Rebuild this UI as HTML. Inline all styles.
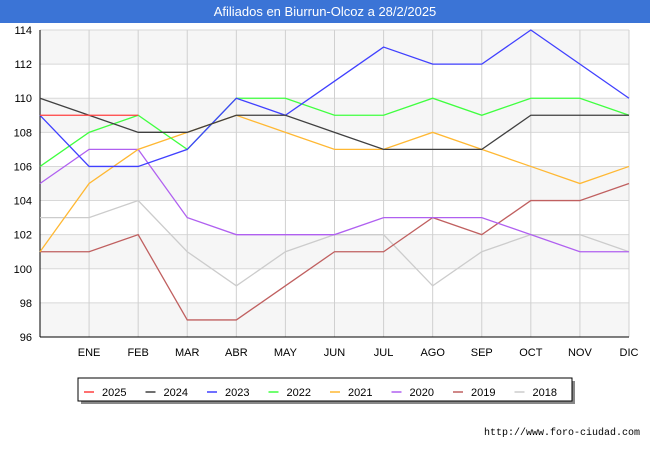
<!DOCTYPE html>
<html><head><meta charset="utf-8"><style>
body{margin:0;background:#fff;font-family:"Liberation Sans",sans-serif}
#wrap{position:relative;width:650px;height:450px;overflow:hidden}
#title{position:absolute;left:0;top:0;width:650px;height:23px;background:#3b74d6;color:#fff;font-size:13px;text-align:center;line-height:23px}
#url{position:absolute;right:10px;top:428px;font-size:10px;font-family:"Liberation Mono",monospace;color:#000}
</style></head><body>
<div id="wrap">
<div id="title">Afiliados en Biurrun-Olcoz a 28/2/2025</div>
<svg id="svg" width="650" height="450" style="position:absolute;left:0;top:0;pointer-events:none"></svg>
<div id="url">http://www.foro-ciudad.com</div>
</div>
<script>
const categories=["","ENE","FEB","MAR","ABR","MAY","JUN","JUL","AGO","SEP","OCT","NOV","DIC"];
const yTicks=[96,98,100,102,104,106,108,110,112,114];
const seriesNames=["2025","2024","2023","2022","2021","2020","2019","2018"];
const seriesColors=["#ff4040","#404040","#4040ff","#40ff40","#ffb833","#b060f0","#c06060","#cccccc"];
const s2025=[109,109,109];
const s2024=[110,109,108,108,109,109,108,107,107,107,109,109,109];
const s2023=[109,106,106,107,110,109,111,113,112,112,114,112,110];
const s2022=[106,108,109,107,110,110,109,109,110,109,110,110,109];
const s2021=[101,105,107,108,109,108,107,107,108,107,106,105,106];
const s2020=[105,107,107,103,102,102,102,103,103,103,102,101,101];
const s2019=[101,101,102,97,97,99,101,101,103,102,104,104,105];
const s2018=[103,103,104,101,99,101,102,102,99,101,102,102,101];
const seriesData=[s2025,s2024,s2023,s2022,s2021,s2020,s2019,s2018];
const X0=40,X1=629,Y0=337,Y1=30,ymin=96,ymax=114;
const xs=i=>X0+(X1-X0)*i/(categories.length-1);
const ys=v=>Y0-(Y0-Y1)*(v-ymin)/(ymax-ymin);
const svg=document.getElementById('svg');const NS='http://www.w3.org/2000/svg';
function mk(t,a){const e=document.createElementNS(NS,t);for(const k in a)e.setAttribute(k,a[k]);svg.appendChild(e);return e;}
for(let i=0;i<yTicks.length-1;i++){
 if(i%2==0){const r=mk('rect',{x:X0,y:ys(yTicks[i+1]),width:X1-X0,height:ys(yTicks[i])-ys(yTicks[i+1]),fill:'#f6f6f6'});
 
 }
}
yTicks.forEach(v=>{const l=mk('line',{x1:X0,x2:X1,y1:ys(v),y2:ys(v),stroke:'#d8d8d8','stroke-width':1});
 
 
 const t=mk('text',{x:X0-8,y:ys(v)+4,'text-anchor':'end','font-size':11,fill:'#000'});t.textContent=v;
 
 });
categories.forEach((c,i)=>{if(!c)return;
 const g=mk('line',{x1:xs(i),x2:xs(i),y1:Y1,y2:Y0,stroke:'#d0d0d0','stroke-width':1});
 
 
 const t=mk('text',{x:xs(i),y:356,'text-anchor':'middle','font-size':11,fill:'#000'});t.textContent=c;
 
 });
mk('line',{x1:X0,x2:X0,y1:Y1,y2:Y0,stroke:'#000'});
mk('line',{x1:X0,x2:X1,y1:Y0,y2:Y0,stroke:'#000'});
for(let s=seriesData.length-1;s>=0;s--){
 const p=mk('polyline',{points:seriesData[s].map((v,i)=>xs(i)+','+ys(v)).join(' '),fill:'none',stroke:seriesColors[s],'stroke-width':1.3});
 
 
}
mk('rect',{x:81,y:381,width:494,height:23,fill:'#888'});
const lg=mk('rect',{x:78,y:378,width:494,height:23,fill:'#fff',stroke:'#000'});


seriesNames.forEach((n,i)=>{const x=84+i*61.5;
 mk('line',{x1:x,x2:x+10,y1:392,y2:392,stroke:seriesColors[i],'stroke-width':1.5});
 const t=mk('text',{x:x+18,y:396,'font-size':11,fill:'#000'});t.textContent=n;
 
 });
</script>
</body></html>
